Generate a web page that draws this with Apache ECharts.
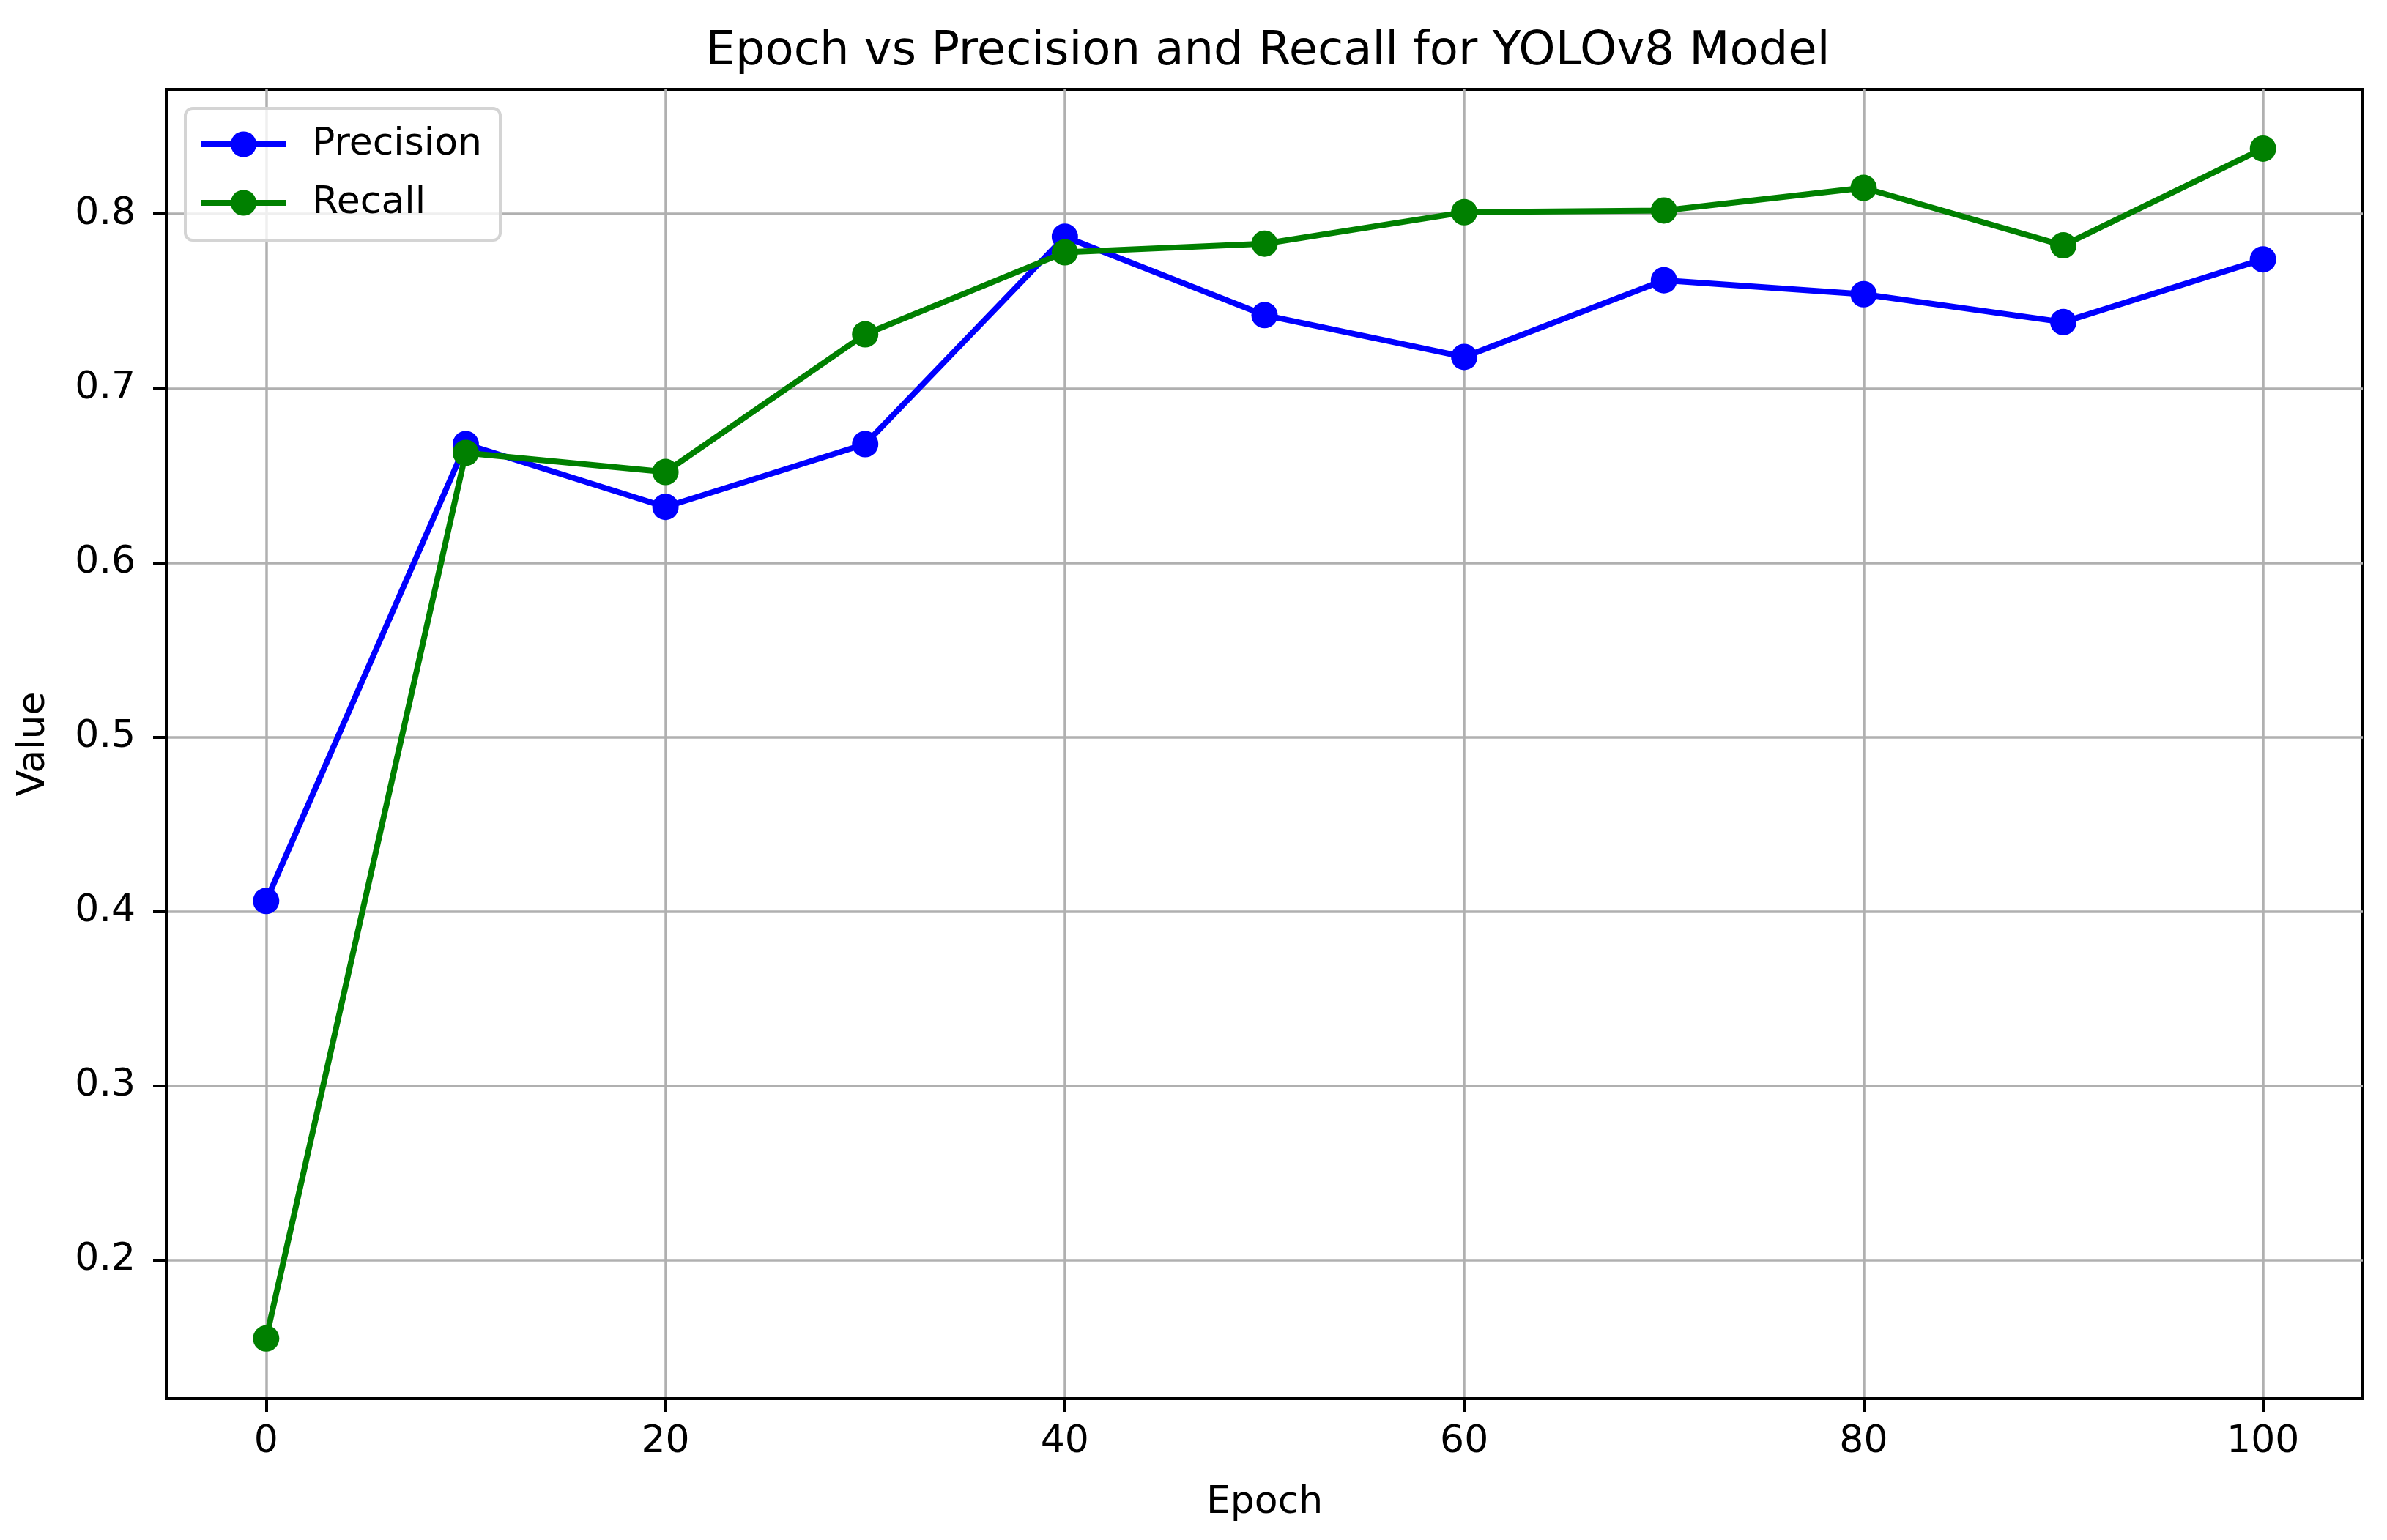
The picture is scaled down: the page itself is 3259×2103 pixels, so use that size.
<!DOCTYPE html>
<html>
<head>
<meta charset="utf-8">
<title>Epoch vs Precision and Recall for YOLOv8 Model</title>
<script src="https://cdn.jsdelivr.net/npm/echarts@6/dist/echarts.min.js"></script>
<style>
  html, body { margin: 0; padding: 0; background: #fff; }
  #chart { width: 3259px; height: 2103px; }
</style>
</head>
<body>
<div id="chart"></div>
<script>
// values
const epochs = [0, 10, 20, 30, 40, 50, 60, 70, 80, 90, 100]
const precision = [0.406, 0.668, 0.632, 0.668, 0.787, 0.742, 0.718, 0.762, 0.754, 0.738, 0.774]
const recall = [0.155, 0.663, 0.652, 0.731, 0.778, 0.783, 0.801, 0.802, 0.815, 0.782, 0.8375]
const xTicks = [0, 20, 40, 60, 80, 100]
const yTicks = [0.2, 0.3, 0.4, 0.5, 0.6, 0.7, 0.8]

const FONT = "DejaVu Sans"
const toPairs = (ys) => epochs.map((x, i) => [x, ys[i]])

const chart = echarts.init(document.getElementById("chart"))

const option = {
  animation: false,
  backgroundColor: "#ffffff",
  title: {
    text: "Epoch vs Precision and Recall for YOLOv8 Model",
    left: 1726,
    textAlign: "center",
    top: 34,
    textStyle: { fontFamily: FONT, fontSize: 64, fontWeight: "normal", color: "#000" },
  },
  legend: {
    orient: "vertical",
    left: 253,
    top: 148,
    padding: [19, 25, 21, 18],
    itemWidth: 115,
    itemHeight: 44,
    itemGap: 20,
    backgroundColor: "rgba(255,255,255,0.8)",
    borderColor: "#d4d4d4",
    borderWidth: 4,
    borderRadius: 10,
    lineStyle: { width: 8 },
    textStyle: { fontFamily: FONT, fontSize: 52, color: "#000", lineHeight: 60, padding: [0, 0, 0, 31] },
    data: ["Precision", "Recall"],
  },
  grid: {
    left: 227,
    right: 33,
    top: 122,
    bottom: 193,
    show: true,
    borderColor: "#000",
    borderWidth: 4,
  },
  xAxis: {
    type: "value",
    min: -5,
    max: 105,
    name: "Epoch",
    nameLocation: "middle",
    nameGap: 116,
    nameTextStyle: { fontFamily: FONT, fontSize: 52, color: "#000" },
    axisLine: { show: true, onZero: false, lineStyle: { color: "#000", width: 4 } },
    axisTick: { show: true, length: 18, lineStyle: { color: "#000", width: 4 }, customValues: xTicks },
    axisLabel: { fontFamily: FONT, fontSize: 52, color: "#000", margin: 33, customValues: xTicks },
    splitLine: { show: true, lineStyle: { color: "#b0b0b0", width: 3.5 } },
  },
  yAxis: {
    type: "value",
    min: 0.1205,
    max: 0.8715,
    name: "Value",
    nameLocation: "middle",
    nameGap: 155,
    nameTextStyle: { fontFamily: FONT, fontSize: 52, color: "#000" },
    axisLine: { show: true, onZero: false, lineStyle: { color: "#000", width: 4 } },
    axisTick: { show: true, length: 18, lineStyle: { color: "#000", width: 4 }, customValues: yTicks },
    axisLabel: {
      fontFamily: FONT, fontSize: 52, color: "#000", margin: 42,
      customValues: yTicks,
      formatter: (v) => v.toFixed(1),
    },
    splitLine: { show: true, lineStyle: { color: "#b0b0b0", width: 3.5 } },
  },
  series: [
    {
      name: "Precision",
      type: "line",
      data: toPairs(precision),
      symbol: "circle",
      symbolSize: 36,
      color: "#0000ff",
      lineStyle: { width: 8, color: "#0000ff" },
      itemStyle: { color: "#0000ff" },
    },
    {
      name: "Recall",
      type: "line",
      data: toPairs(recall),
      symbol: "circle",
      symbolSize: 36,
      color: "#008000",
      lineStyle: { width: 8, color: "#008000" },
      itemStyle: { color: "#008000" },
    },
  ],
}

chart.setOption(option)
</script>
</body>
</html>
